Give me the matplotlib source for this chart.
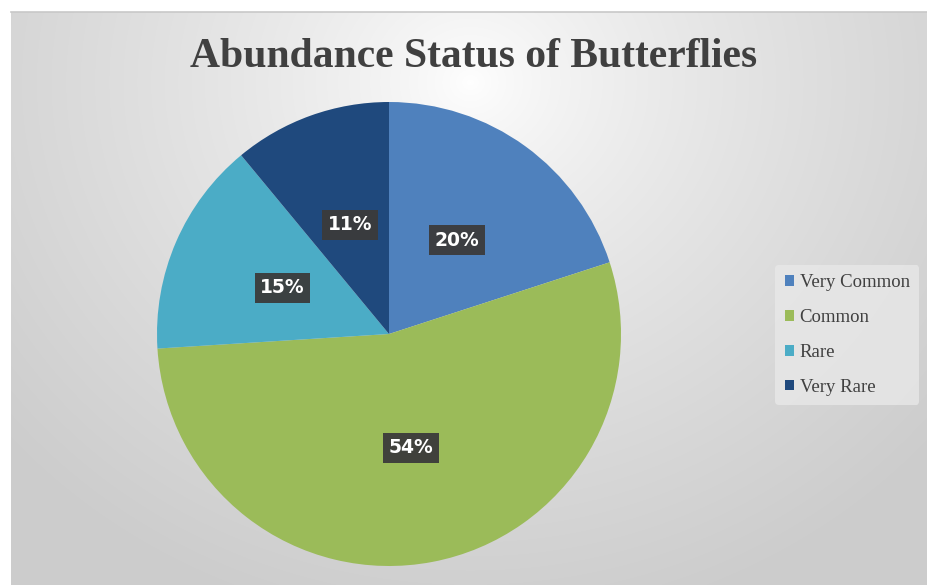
import numpy as np
import matplotlib
matplotlib.use("Agg")
import matplotlib.pyplot as plt

categories = ["Very Common", "Common", "Rare", "Very Rare"]
values = [20, 54, 15, 11]
colors = ["#4f81bd", "#9bbb59", "#4bacc6", "#1f497d"]
title = "Abundance Status of Butterflies"

W, H = 928, 585
fig = plt.figure(figsize=(W / 100, H / 100), dpi=100)
fig.patch.set_facecolor("white")

# background radial gradient (chart area below a thin white strip)
top_px, left_px = 12, 11
bg = fig.add_axes([left_px / W, 0, 1 - left_px / W, 1 - top_px / H])
bg.set_axis_off()
yy, xx = np.mgrid[0:H - top_px, left_px:W]
cx, cy = 470, 70
d = np.sqrt(((xx - cx) / 620.0) ** 2 + ((yy - cy) / 560.0) ** 2)
g = 1.0 - 0.2 * np.clip(d, 0, 1) ** 0.75
img = np.dstack([g, g, g])
bg.imshow(img, aspect="auto", extent=[0, 1, 0, 1], interpolation="bilinear")
bg.set_xlim(0, 1); bg.set_ylim(0, 1)
fig.add_artist(plt.Line2D([left_px / W, 1], [1 - top_px / H, 1 - top_px / H],
                          color="#c8c8c8", lw=1.2, transform=fig.transFigure))

# pie axes
R = 232
cxp, cyp = 389, 334
ax = fig.add_axes([(cxp - R) / W, (H - cyp - R) / H, 2 * R / W, 2 * R / H])
ax.set_facecolor("none")
wedges, texts, autotexts = ax.pie(
    values, colors=colors, startangle=90, counterclock=False,
    autopct=lambda p: f"{p:.0f}%", pctdistance=0.5, radius=1.0,
    wedgeprops=dict(linewidth=0),
    textprops=dict(color="white", fontsize=13.5, fontweight="bold",
                   family="DejaVu Sans"))
for t in autotexts:
    t.set_bbox(dict(boxstyle="square,pad=0.3", facecolor="#3b3b3b",
                    edgecolor="none", alpha=0.95))
ax.set_xlim(-1, 1); ax.set_ylim(-1, 1)
ax.set_aspect("equal")

fig.text(474 / W, 1 - 57 / H, title, ha="center", va="center",
         fontsize=30, fontweight="bold", family="Liberation Serif", color="#404040")

leg = fig.legend(wedges, categories, loc="center left",
                 bbox_to_anchor=(766 / W, 1 - 335 / H), frameon=True,
                 prop=dict(family="Liberation Serif", size=13.5),
                 handlelength=0.5, handleheight=0.5, handletextpad=0.3,
                 labelspacing=0.95, borderpad=0.5, labelcolor="#404040")
leg.get_frame().set_facecolor("#e8e8e8")
leg.get_frame().set_edgecolor("none")
leg.get_frame().set_alpha(0.8)

fig.savefig("out.png", dpi=100)
